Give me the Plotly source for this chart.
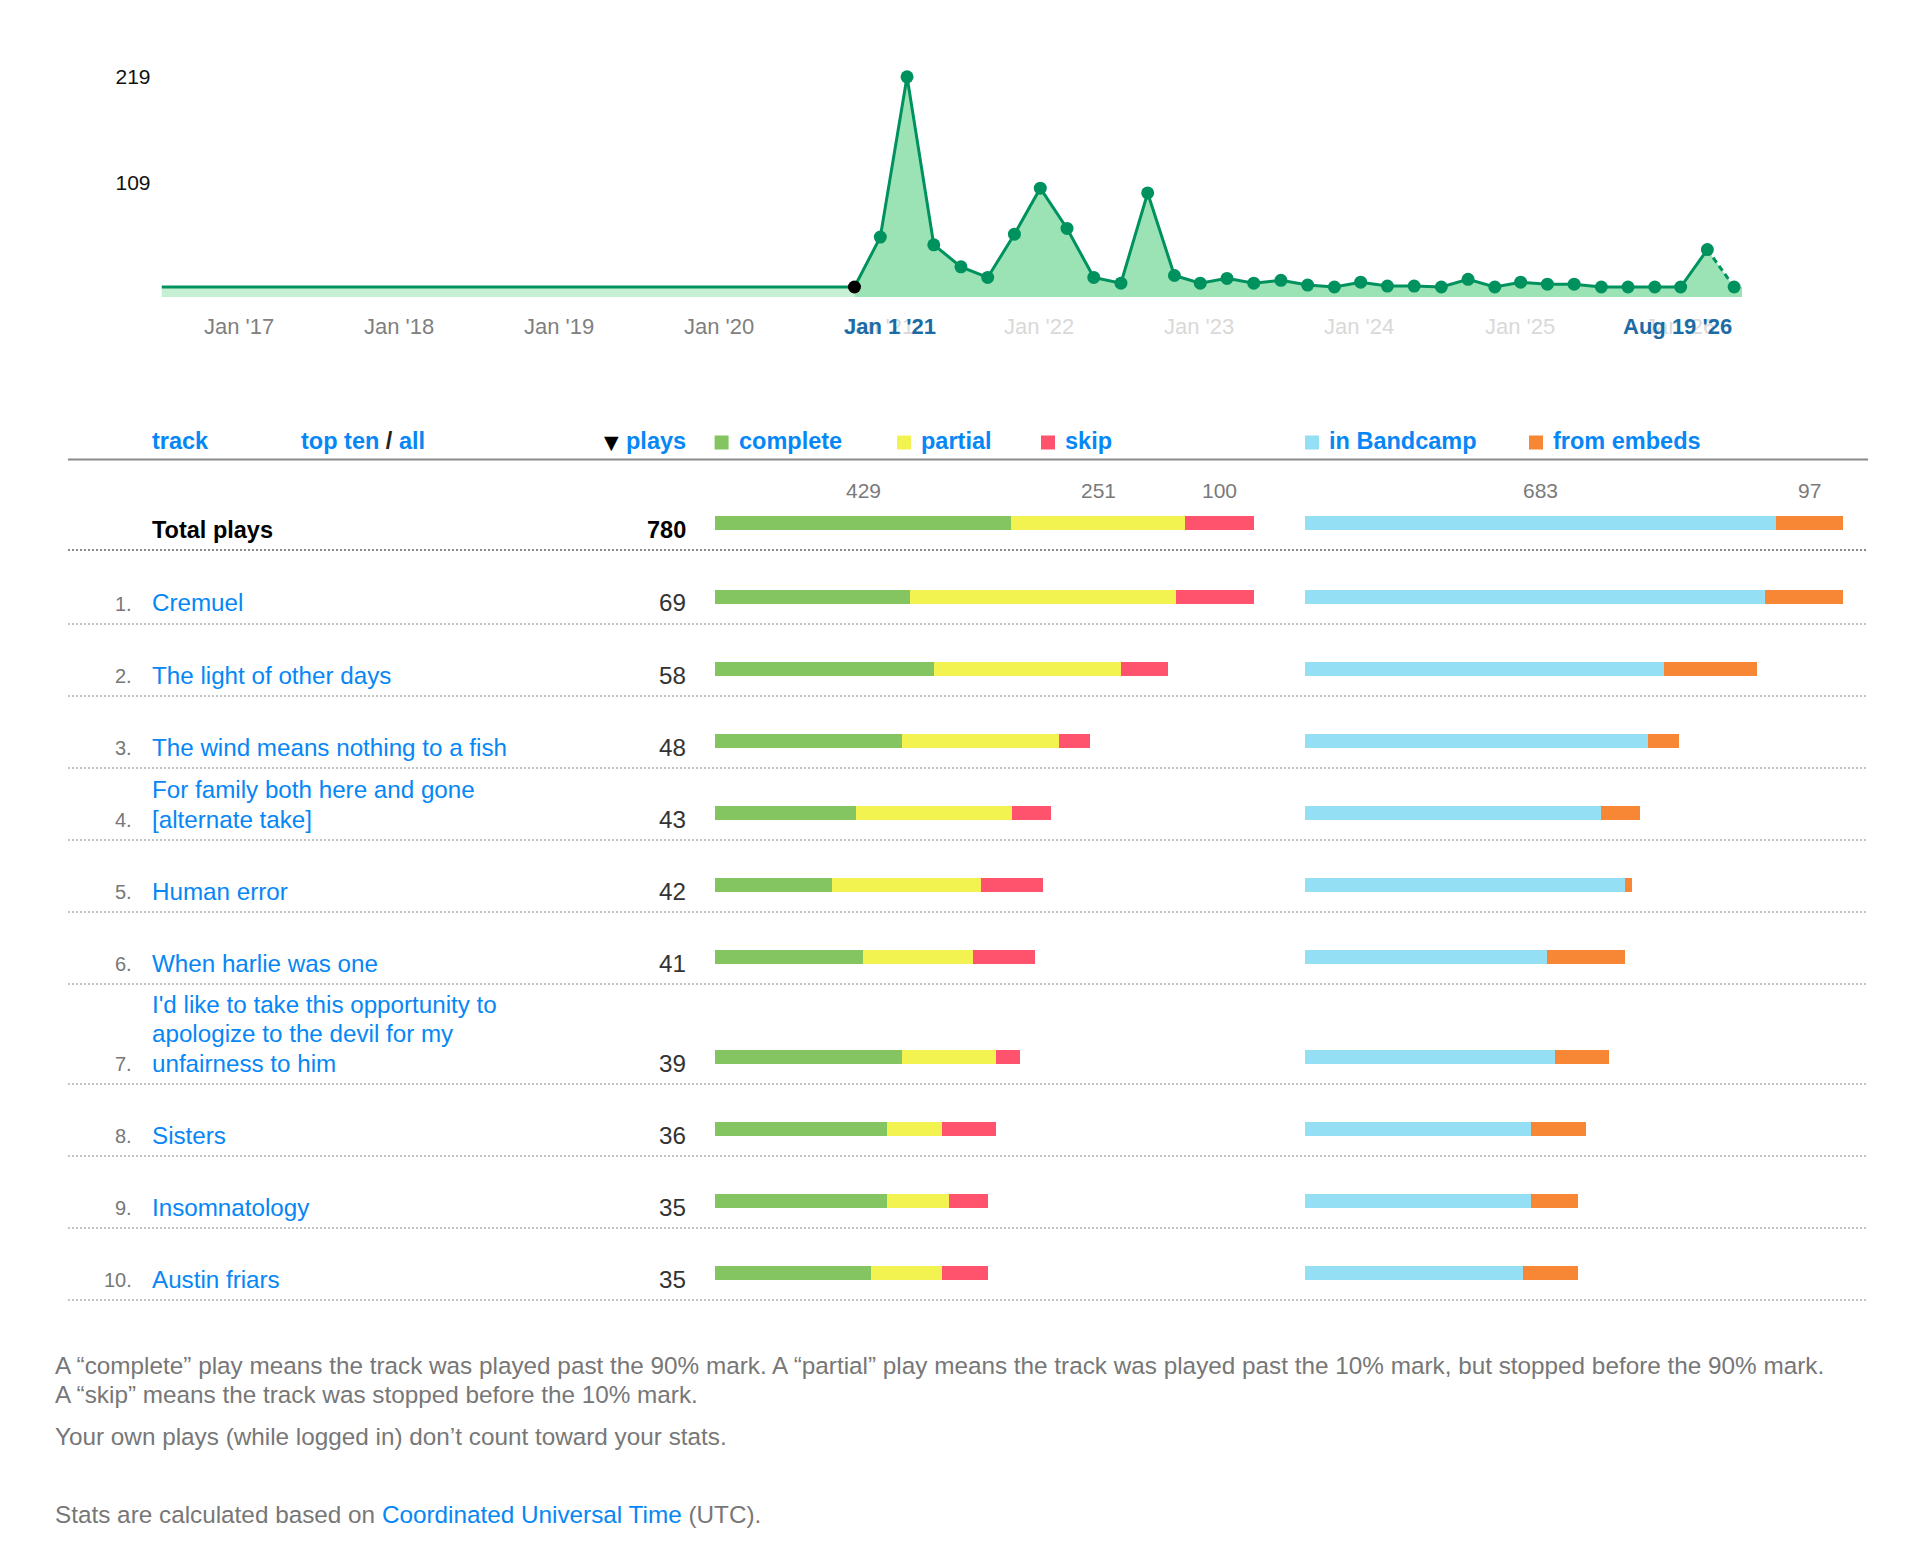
import textwrap
import plotly.graph_objects as go

# ---------------- data ----------------
period_dates = [
    "2021-01-01", "2021-03-01", "2021-05-01", "2021-07-01", "2021-09-01", "2021-11-01",
    "2022-01-01", "2022-03-01", "2022-05-01", "2022-07-01", "2022-09-01", "2022-11-01",
    "2023-01-01", "2023-03-01", "2023-05-01", "2023-07-01", "2023-09-01", "2023-11-01",
    "2024-01-01", "2024-03-01", "2024-05-01", "2024-07-01", "2024-09-01", "2024-11-01",
    "2025-01-01", "2025-03-01", "2025-05-01", "2025-07-01", "2025-09-01", "2025-11-01",
    "2026-01-01", "2026-03-01", "2026-05-01", "2026-07-01",
]
period_plays = [
    0, 52, 219, 44, 21, 10,
    55, 103, 61, 10, 4, 98,
    12, 4, 9, 4, 7, 2,
    0, 5, 1, 1, 0, 8,
    0, 5, 3, 3, 0, 0,
    0, 0, 39, 0,
]
axis_years = [2017, 2018, 2019, 2020, 2021, 2022, 2023, 2024, 2025, 2026]
range_start_label = "Jan 1 '21"
range_end_label = "Aug 19 '26"

track_names = [
    "Cremuel",
    "The light of other days",
    "The wind means nothing to a fish",
    "For family both here and gone [alternate take]",
    "Human error",
    "When harlie was one",
    "I'd like to take this opportunity to apologize to the devil for my unfairness to him",
    "Sisters",
    "Insomnatology",
    "Austin friars",
]
track_plays = [69, 58, 48, 43, 42, 41, 39, 36, 35, 35]
track_complete = [25, 28, 24, 18, 15, 19, 24, 22, 22, 20]
track_partial = [34, 24, 20, 20, 19, 14, 12, 7, 8, 9]
track_skip = [10, 6, 4, 5, 8, 8, 3, 7, 5, 6]
track_bandcamp = [59, 46, 44, 38, 41, 31, 32, 29, 29, 28]
track_embeds = [10, 12, 4, 5, 1, 10, 7, 7, 6, 7]

total_complete, total_partial, total_skip = 429, 251, 100
total_bandcamp, total_embeds = 683, 97

footer_lines = [
    "A “complete” play means the track was played past the 90% mark. A “partial” play means the track was played past the 10% mark, but stopped before the 90% mark.",
    "A “skip” means the track was stopped before the 10% mark.",
    "Your own plays (while logged in) don’t count toward your stats.",
]

# ---------------- styling / layout helpers ----------------
FW, FH, OFF = 1916, 1542, 8
FONT = "Liberation Sans, Arial, Helvetica, sans-serif"
GREEN_LINE = "#00925e"
FILL = "#9be3b5"
FILL_LIGHT = "#c6f0d4"
BLUE = "#0687f5"
HL_BLUE = "#1b6ba6"
C_COMPLETE, C_PARTIAL, C_SKIP = "#84c562", "#f2f250", "#ff526d"
C_BANDCAMP, C_EMBEDS = "#94dff3", "#f78734"
NAME_SIZE = 24.2
FOOT_SIZE = 24.3


def px(x):
    return (x - OFF) / FW


def py(y):
    return 1 - (y - OFF) / FH


fig = go.Figure()

# ---------------- timeline chart ----------------
range_start, range_end = "2016-09-03", "2026-07-19"
y_min, y_max = -10.4, 236.5
peak = max(period_plays)

fig.add_trace(go.Scatter(
    x=[range_start, period_dates[0], period_dates[0], range_start],
    y=[0, 0, y_min, y_min], fill="toself", fillcolor=FILL_LIGHT,
    mode="lines", line=dict(width=0), hoverinfo="skip", showlegend=False))
fig.add_trace(go.Scatter(
    x=period_dates + [range_end, range_end, period_dates[0]],
    y=period_plays + [period_plays[-1], y_min, y_min],
    fill="toself", fillcolor=FILL, mode="lines", line=dict(width=0),
    hoverinfo="skip", showlegend=False))
fig.add_trace(go.Scatter(
    x=[range_start, period_dates[0]], y=[0, period_plays[0]],
    mode="lines", line=dict(color=GREEN_LINE, width=3), hoverinfo="skip", showlegend=False))
fig.add_trace(go.Scatter(
    x=period_dates[:-1], y=period_plays[:-1], mode="lines",
    line=dict(color=GREEN_LINE, width=3), hoverinfo="skip", showlegend=False))
fig.add_trace(go.Scatter(
    x=period_dates[-2:], y=period_plays[-2:], mode="lines",
    line=dict(color=GREEN_LINE, width=3, dash="6px,4px"), hoverinfo="skip", showlegend=False))
fig.add_trace(go.Scatter(
    x=period_dates, y=period_plays, mode="markers",
    marker=dict(size=13, color=["#000000"] + [GREEN_LINE] * (len(period_plays) - 1)),
    hoverinfo="skip", showlegend=False, cliponaxis=False))

annotations = []
shapes = []

start_year = int(period_dates[0][:4])
for yr in axis_years:
    col = "#808080" if yr < start_year else "#d9d9d9"
    annotations.append(dict(
        x=f"{yr}-01-01", xref="x", y=py(326.5), yref="paper",
        text=f"Jan '{str(yr)[2:]}", xanchor="left", yanchor="middle", xshift=-12,
        showarrow=False, font=dict(family=FONT, size=22, color=col)))
annotations.append(dict(
    x=period_dates[0], xref="x", y=py(326.5), yref="paper", text=f"<b>{range_start_label}</b>",
    xanchor="left", yanchor="middle", xshift=-12, showarrow=False,
    font=dict(family=FONT, size=22, color=HL_BLUE)))
annotations.append(dict(
    x=period_dates[-1], xref="x", y=py(326.5), yref="paper", text=f"<b>{range_end_label}</b>",
    xanchor="right", yanchor="middle", showarrow=False,
    font=dict(family=FONT, size=22, color=HL_BLUE)))

# ---------------- table ----------------
ROW_START, ROW_H, EXTRA_LINE, LINE_GAP = 552, 72, 28, 29.5
BAR_W = 14

# header
HY = 441
annotations.append(dict(x=px(150), y=py(HY), xref="paper", yref="paper", text="<b>track</b>",
                        xanchor="left", yanchor="middle", showarrow=False,
                        font=dict(family=FONT, size=23.5, color=BLUE)))
annotations.append(dict(x=px(298.5), y=py(HY), xref="paper", yref="paper",
                        text='<b>top ten <span style="color:#222222">/</span> all</b>',
                        xanchor="left", yanchor="middle", showarrow=False,
                        font=dict(family=FONT, size=23.5, color=BLUE)))
annotations.append(dict(x=px(611.5), y=py(HY + 1), xref="paper", yref="paper", text="▼",
                        xanchor="center", yanchor="middle", showarrow=False,
                        font=dict(family="DejaVu Sans", size=19, color="#000000")))
annotations.append(dict(x=px(688), y=py(HY), xref="paper", yref="paper", text="<b>plays</b>",
                        xanchor="right", yanchor="middle", showarrow=False,
                        font=dict(family=FONT, size=23.5, color=BLUE)))

legend_items = [
    ("complete", C_COMPLETE, 714.6),
    ("partial", C_PARTIAL, 897),
    ("skip", C_SKIP, 1041),
    ("in Bandcamp", C_BANDCAMP, 1305),
    ("from embeds", C_EMBEDS, 1529),
]
for label, col, lx in legend_items:
    shapes.append(dict(type="rect", xref="paper", yref="paper", x0=px(lx), x1=px(lx + 14),
                       y0=py(449.5), y1=py(435.5), fillcolor=col, line=dict(width=0)))
    annotations.append(dict(x=px(lx + 22), y=py(HY), xref="paper", yref="paper",
                            text=f"<b>{label}</b>", xanchor="left", yanchor="middle",
                            showarrow=False, font=dict(family=FONT, size=23.5, color=BLUE)))

shapes.append(dict(type="line", xref="paper", yref="y2", x0=px(68), x1=px(1868),
                   y0=459.5, y1=459.5, line=dict(color="#8a8a8a", width=2)))

# total row
TOTAL_BAR_Y = 523
total_plays = total_complete + total_partial + total_skip
annotations.append(dict(x=px(150), y=py(530), xref="paper", yref="paper", text="<b>Total plays</b>",
                        xanchor="left", yanchor="middle", showarrow=False,
                        font=dict(family=FONT, size=23.5, color="#000000")))
annotations.append(dict(x=px(688), y=py(530), xref="paper", yref="paper", text=f"<b>{total_plays}</b>",
                        xanchor="right", yanchor="middle", showarrow=False,
                        font=dict(family=FONT, size=23.5, color="#000000")))
shapes.append(dict(type="line", xref="paper", yref="y2", x0=px(68), x1=px(1868),
                   y0=550, y1=550, line=dict(color="#8a8a8a", width=2, dash="2px,2px")))

for vals, cols, xa in [
    ([total_complete, total_partial, total_skip], [C_COMPLETE, C_PARTIAL, C_SKIP], "x3"),
    ([total_bandcamp, total_embeds], [C_BANDCAMP, C_EMBEDS], "x5"),
]:
    cum = 0
    for v, c in zip(vals, cols):
        fig.add_trace(go.Bar(x=[v], y=[TOTAL_BAR_Y], orientation="h", width=BAR_W,
                             marker=dict(color=c, line=dict(width=0)), xaxis=xa, yaxis="y2",
                             hoverinfo="skip", showlegend=False))
        annotations.append(dict(x=cum + v / 2, xref=xa, y=TOTAL_BAR_Y - 32.5, yref="y2",
                                text=str(v), xanchor="center", yanchor="middle", showarrow=False,
                                font=dict(family=FONT, size=21, color="#7a7a7a")))
        cum += v

# track rows
bar_y = []
y_top = ROW_START
for i, name in enumerate(track_names):
    lines = textwrap.wrap(name, 37)
    h = ROW_H + EXTRA_LINE * max(0, len(lines) - 2)
    bottom = y_top + h
    bar_y.append(bottom - 27)
    text_y = bottom - 21
    for j, ln in enumerate(lines):
        ly = text_y - (len(lines) - 1 - j) * LINE_GAP
        annotations.append(dict(x=px(150), y=py(ly), xref="paper", yref="paper", text=ln,
                                xanchor="left", yanchor="middle", showarrow=False,
                                font=dict(family=FONT, size=NAME_SIZE, color=BLUE)))
    annotations.append(dict(x=px(134), y=py(text_y + 1), xref="paper", yref="paper", text=f"{i + 1}.",
                            xanchor="right", yanchor="middle", showarrow=False,
                            font=dict(family=FONT, size=20, color="#777777")))
    annotations.append(dict(x=px(688), y=py(text_y), xref="paper", yref="paper", text=str(track_plays[i]),
                            xanchor="right", yanchor="middle", showarrow=False,
                            font=dict(family=FONT, size=NAME_SIZE, color="#333333")))
    shapes.append(dict(type="line", xref="paper", yref="y2", x0=px(68), x1=px(1868),
                       y0=bottom, y1=bottom, line=dict(color="#c4c4c4", width=2, dash="2px,2px")))
    y_top = bottom

for vals, col, xa in [
    (track_complete, C_COMPLETE, "x2"), (track_partial, C_PARTIAL, "x2"), (track_skip, C_SKIP, "x2"),
    (track_bandcamp, C_BANDCAMP, "x4"), (track_embeds, C_EMBEDS, "x4"),
]:
    fig.add_trace(go.Bar(x=vals, y=bar_y, orientation="h", width=BAR_W,
                         marker=dict(color=col, line=dict(width=0)), xaxis=xa, yaxis="y2",
                         hoverinfo="skip", showlegend=False))

# footer
footer_y = [1365, 1394.6, 1436.5]
for ln, fy in zip(footer_lines, footer_y):
    annotations.append(dict(x=px(53), y=py(fy), xref="paper", yref="paper", text=ln,
                            xanchor="left", yanchor="middle", showarrow=False,
                            font=dict(family=FONT, size=FOOT_SIZE, color="#777777")))
annotations.append(dict(
    x=px(53), y=py(1514), xref="paper", yref="paper",
    text=f'Stats are calculated based on <span style="color:{BLUE}">Coordinated Universal Time</span> (UTC).',
    xanchor="left", yanchor="middle", showarrow=False,
    font=dict(family=FONT, size=FOOT_SIZE, color="#777777")))

# ---------------- axes ----------------
hidden = dict(visible=False, showgrid=False, zeroline=False, fixedrange=True)
max_track = max(track_plays)
fig.update_layout(
    width=FW, height=FH, margin=dict(l=0, r=0, t=0, b=0),
    paper_bgcolor="white", plot_bgcolor="rgba(0,0,0,0)",
    barmode="stack", bargap=0, showlegend=False,
    font=dict(family=FONT),
    xaxis=dict(type="date", domain=[px(161.5), px(1742)], range=[range_start, range_end],
               visible=False, anchor="y"),
    yaxis=dict(domain=[py(297), py(60)], range=[y_min, y_max], anchor="x",
               tickvals=[peak // 2, peak], ticktext=[str(peak // 2), str(peak)],
               showgrid=False, zeroline=False, showline=False, ticks="",
               ticklabelstandoff=10, tickfont=dict(family=FONT, size=21, color="#111111")),
    xaxis2=dict(domain=[px(715), px(1254)], range=[0, max_track], anchor="y2", **hidden),
    xaxis3=dict(domain=[px(715), px(1254)], range=[0, total_plays], anchor="y2", **hidden),
    xaxis4=dict(domain=[px(1305), px(1843)], range=[0, max_track], anchor="y2", **hidden),
    xaxis5=dict(domain=[px(1305), px(1843)], range=[0, total_plays], anchor="y2", **hidden),
    yaxis2=dict(domain=[0, 1], range=[OFF + FH, OFF], anchor="x2", **hidden),
    annotations=annotations,
    shapes=shapes,
)

fig.write_html("out.html", config={"displayModeBar": False})
